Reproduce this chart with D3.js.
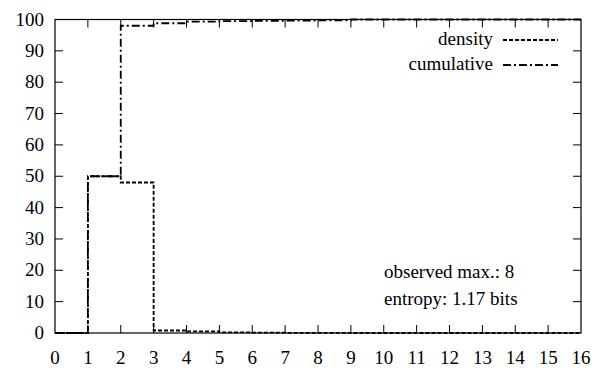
<!DOCTYPE html>
<html><head><meta charset="utf-8">
<script src="https://cdn.jsdelivr.net/npm/d3@7"></script>
<style>body{margin:0;background:#fff}</style>
</head><body>
<svg id="c" width="596" height="368"></svg>
<script>
const xs = [0,1,2,3,4,5,6,7,8,9,10,11,12,13,14,15,16];
const density = [0,50,48,0.8,0.5,0.2,0.1,0.05,0.05,0,0,0,0,0,0,0,0];
const cumulative = [0,50,98,98.8,99.3,99.5,99.6,99.65,99.7,100,100,100,100,100,100,100,100];
const xTicks = d3.range(0,17);
const yTicks = d3.range(0,101,10);
const legendNames = ["density","cumulative"];
const notes = ["observed max.: 8","entropy: 1.17 bits"];

const svg = d3.select("#c");
const L=55, R=581, T=19.5, B=333;
const x = d3.scaleLinear().domain([0,16]).range([L,R]);
const y = d3.scaleLinear().domain([0,100]).range([B,T]);
const fs = 19;
function txt(){ return svg.append("text").style("font-family",'"Liberation Serif"').attr("font-size",fs); }

const g = svg.append("g").attr("stroke","#000").attr("stroke-width",1);
xTicks.forEach(t=>{
  if(t>0&&t<16){
    g.append("line").attr("x1",x(t)).attr("x2",x(t)).attr("y1",B).attr("y2",B-8);
    g.append("line").attr("x1",x(t)).attr("x2",x(t)).attr("y1",T).attr("y2",T+8);
  }
});
yTicks.forEach(t=>{
  if(t>0&&t<100){
    g.append("line").attr("x1",L).attr("x2",L+8).attr("y1",y(t)).attr("y2",y(t));
    g.append("line").attr("x1",R).attr("x2",R-8).attr("y1",y(t)).attr("y2",y(t));
  }
});
svg.append("rect").attr("x",L).attr("y",T).attr("width",R-L).attr("height",B-T)
  .attr("fill","none").attr("stroke","#000").attr("stroke-width",1.2);

xTicks.forEach(t=>txt().attr("x",x(t)).attr("y",364).attr("text-anchor","middle").text(String(t)));
yTicks.forEach(t=>txt().attr("x",44).attr("y",y(t)+6).attr("text-anchor","end").text(String(t)));

const line = d3.line().x(d=>x(d[0])).y(d=>y(d[1])).curve(d3.curveStepAfter);
svg.append("path").datum(xs.map((v,i)=>[v,density[i]])).attr("d",line)
  .attr("fill","none").attr("stroke","#000").attr("stroke-width",1.8).attr("stroke-dasharray","4,2");
svg.append("path").datum(xs.map((v,i)=>[v,cumulative[i]])).attr("d",line)
  .attr("fill","none").attr("stroke","#000").attr("stroke-width",1.8).attr("stroke-dasharray","8,3,2,3");

const dashes = ["4,2","8,3,2,3"];
legendNames.forEach((n,i)=>{
  const yy = 40 + i*25;
  txt().attr("x",493).attr("y",yy+5).attr("text-anchor","end").text(n);
  svg.append("line").attr("x1",503).attr("x2",558).attr("y1",yy).attr("y2",yy)
    .attr("stroke","#000").attr("stroke-width",1.8).attr("stroke-dasharray",dashes[i]);
});
notes.forEach((n,i)=>{
  txt().attr("x",384).attr("y",278+i*27).text(n);
});
</script>
</body></html>
